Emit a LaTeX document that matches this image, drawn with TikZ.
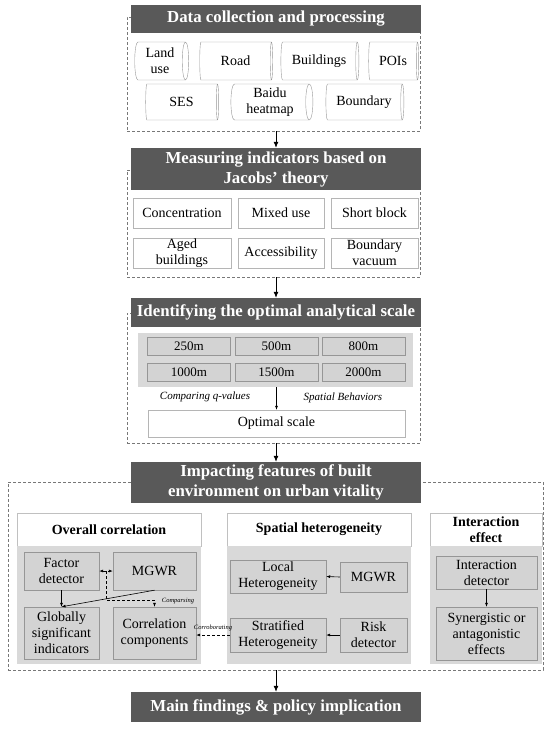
\documentclass[tikz,border=0pt]{standalone}
\usepackage{fontspec}
\setmainfont{Liberation Serif}
\usetikzlibrary{shapes.geometric,arrows.meta,calc}
\definecolor{hdrgray}{RGB}{89,89,89}
\definecolor{pangray}{RGB}{217,217,217}
\definecolor{boxgray}{RGB}{211,211,211}
\definecolor{edgegray}{RGB}{150,150,150}
\definecolor{dashgray}{RGB}{120,120,120}
\begin{document}
\begin{tikzpicture}[x=1pt,y=-1pt,
    hdr/.style={fill=hdrgray, text=white, inner sep=0pt, align=center, font=\bfseries\fontsize{16.8}{20}\selectfont},
    dbox/.style={draw=dashgray, dash pattern={on 3pt off 2pt}, line width=0.6pt, inner sep=0pt},
    cyl/.style={cylinder, draw=edgegray, aspect=0.25, inner sep=0pt, align=center, font=\fontsize{14}{16}\selectfont},
    wbox/.style={draw=edgegray!70, fill=white, inner sep=0pt, align=center, font=\fontsize{14}{16}\selectfont},
    gbox/.style={draw=edgegray, fill=boxgray, inner sep=0pt, align=center, font=\fontsize{14}{16}\selectfont},
    subhdr/.style={draw=edgegray!60, fill=white, inner sep=0pt, align=center, font=\bfseries\fontsize{14}{16}\selectfont},
    panel/.style={fill=pangray, inner sep=0pt},
    arr/.style={-{Latex[length=6pt,width=5pt]}, line width=0.8pt},
    sarr/.style={-{Latex[length=4pt,width=3pt]}, line width=0.6pt},
    dsh/.style={dash pattern={on 3pt off 2pt}, line width=0.6pt},
    note/.style={inner sep=0pt, font=\itshape\fontsize{11}{13}\selectfont},
    tiny/.style={inner sep=0pt, font=\itshape\fontsize{6.5}{8}\selectfont}]
    \useasboundingbox (0,0) rectangle (550,729);

    % Dashed frames
    \node[dbox, minimum width=293pt, minimum height=114pt] (d1) at (273.5,74) {};
    \node[dbox, minimum width=293pt, minimum height=107pt] (d2) at (273.5,223.5) {};
    \node[dbox, minimum width=293pt, minimum height=130pt] (d3) at (273.5,378) {};
    \node[dbox, minimum width=535pt, minimum height=188pt] (d4) at (275.5,576) {};

    % Headers
    \node[hdr, minimum width=290pt, minimum height=28pt] (h1) at (276,19) {Data collection and processing};
    \node[hdr, minimum width=290pt, minimum height=42pt] (h2) at (276,169) {Measuring indicators based on\\Jacobs’ theory};
    \node[hdr, minimum width=290pt, minimum height=29pt] (h3) at (276,312.5) {Identifying the optimal analytical scale};
    \node[hdr, minimum width=290pt, minimum height=41pt] (h4) at (276,482.5) {Impacting features of built\\environment on urban vitality};
    \node[hdr, minimum width=290pt, minimum height=30pt] (h5) at (276,707) {Main findings \& policy implication};

    % Data sources
    \node[cyl, minimum height=54pt, minimum width=38pt] (lu) at (160,61) {Land\\use};
    \node[cyl, minimum height=73pt, minimum width=38pt] (rd1) at (235.5,61) {Road};
    \node[cyl, minimum height=78pt, minimum width=38pt] (bld) at (319,61) {Buildings};
    \node[cyl, minimum height=50pt, minimum width=38pt] (poi) at (393,61) {POIs};
    \node[cyl, minimum height=73pt, minimum width=36pt] (ses) at (181.5,102) {SES};
    \node[cyl, minimum height=82pt, minimum width=36pt] (bhm) at (270,102) {Baidu\\heatmap};
    \node[cyl, minimum height=78pt, minimum width=36pt] (bnd) at (364,102) {Boundary};

    % Indicators
    \node[wbox, minimum width=98pt, minimum height=30pt] (conc) at (182,213) {Concentration};
    \node[wbox, minimum width=86pt, minimum height=30pt] (mix) at (281,213) {Mixed use};
    \node[wbox, minimum width=87pt, minimum height=30pt] (sb) at (374.5,213) {Short block};
    \node[wbox, minimum width=98pt, minimum height=30pt] (aged) at (182,253) {Aged\\buildings};
    \node[wbox, minimum width=86pt, minimum height=30pt] (acc) at (281,253) {Accessibility};
    \node[wbox, minimum width=87pt, minimum height=30pt] (bv) at (374.5,253) {Boundary\\vacuum};

    % Scales
    \node[panel, minimum width=275pt, minimum height=54pt] (sp) at (275.5,360) {};
    \foreach \s/\x/\y in {250m/189/346, 500m/276.5/346, 800m/363.5/346,
                          1000m/189/372.5, 1500m/276.5/372.5, 2000m/363.5/372.5}
        \node[gbox, minimum width=83pt, minimum height=18pt, font=\fontsize{13}{15}\selectfont] (s\s) at (\x,\y) {\s};
    \node[wbox, minimum width=257pt, minimum height=27pt] (opt) at (276.5,423.5) {Optimal scale};
    \node[note] (cq) at (205,397) {Comparing q-values};
    \node[note] (sbh) at (343,398) {Spatial Behaviors};

    % Overall correlation
    \node[subhdr, minimum width=184pt, minimum height=33pt] (oc) at (109,529.5) {Overall correlation};
    \node[panel, minimum width=184pt, minimum height=118pt] (ocp) at (109,605) {};
    \node[gbox, minimum width=75pt, minimum height=38pt] (fd) at (61.5,571) {Factor\\detector};
    \node[gbox, minimum width=83pt, minimum height=38pt] (mg1) at (154.5,571) {MGWR};
    \node[gbox, minimum width=75pt, minimum height=52pt] (gs) at (61.5,633) {Globally\\significant\\indicators};
    \node[gbox, minimum width=83pt, minimum height=52pt] (cc) at (154.5,633) {Correlation\\components};

    % Spatial heterogeneity
    \node[subhdr, minimum width=184pt, minimum height=33pt] (sh) at (319,529.5) {Spatial heterogeneity};
    \node[panel, minimum width=184pt, minimum height=118pt] (shp) at (319,605) {};
    \node[gbox, minimum width=96pt, minimum height=33pt] (lh) at (278,576.5) {Local\\Heterogeneity};
    \node[gbox, minimum width=67pt, minimum height=30pt] (mg2) at (373.5,577) {MGWR};
    \node[gbox, minimum width=96pt, minimum height=34pt] (sth) at (278,635) {Stratified\\Heterogeneity};
    \node[gbox, minimum width=67pt, minimum height=34pt] (rk) at (373.5,635) {Risk\\detector};

    % Interaction effect
    \node[subhdr, minimum width=112pt, minimum height=33pt] (ie) at (486,529.5) {Interaction\\effect};
    \node[panel, minimum width=112pt, minimum height=118pt] (iep) at (486,605) {};
    \node[gbox, minimum width=101pt, minimum height=33pt] (idt) at (486.5,572.5) {Interaction\\detector};
    \node[gbox, minimum width=101pt, minimum height=53pt] (syn) at (486.5,633.5) {Synergistic or\\antagonistic\\effects};

    % Main flow
    \draw[arr] (h2.north |- d1.south) -- (h2.north);
    \draw[arr] (h3.north |- d2.south) -- (h3.north);
    \draw[arr] (h4.north |- d3.south) -- (h4.north);
    \draw[arr] (h5.north |- d4.south) -- (h5.north);
    \draw[sarr] (opt.north |- sp.south) -- (opt.north);

    % Links inside the panels
    \draw[sarr] (fd.south) -- (gs.north);
    \draw[sarr] (mg1.south) -- (gs.north);
    \draw[sarr, dsh, {Latex[length=4pt,width=3pt]}-{Latex[length=4pt,width=3pt]}] (fd.east) -- (mg1.west);
    \draw[sarr, dsh] ($(fd.east)!.5!(mg1.west)$) |- ([yshift=7pt]cc.north) -- (cc.north);
    \node[tiny] (cmp) at (178,601) {Comparsing};
    \draw[sarr, dsh] (sth.west) -- (sth.west -| cc.east);
    \node[tiny] (cor) at (213,628) {Corroborating};
    \draw[sarr] (mg2.west) -- (lh.east);
    \draw[sarr] (rk.west) -- (sth.east);
    \draw[sarr] (idt.south) -- (syn.north);
\end{tikzpicture}
\end{document}
